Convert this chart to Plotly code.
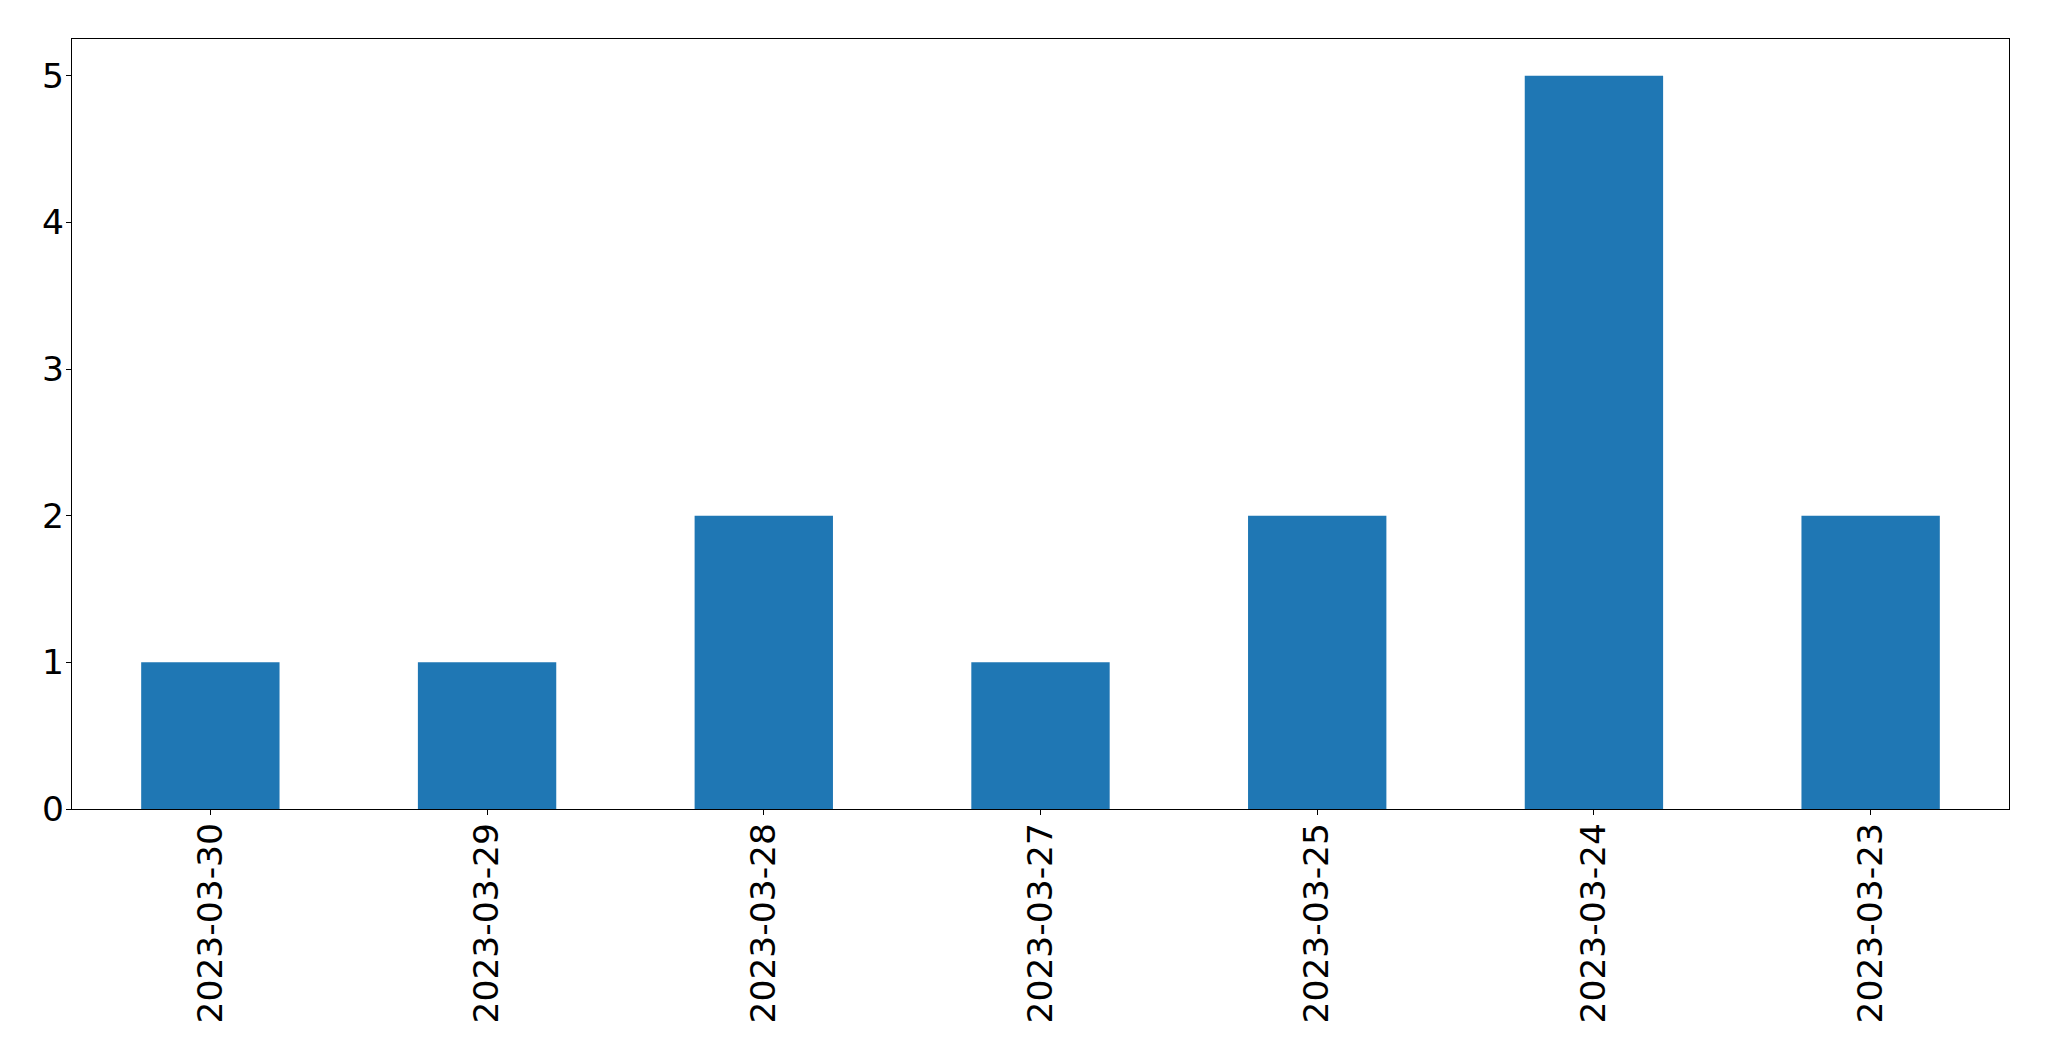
import plotly.graph_objects as go

dates = ["2023-03-30", "2023-03-29", "2023-03-28", "2023-03-27",
         "2023-03-25", "2023-03-24", "2023-03-23"]
counts = [1, 1, 2, 1, 2, 5, 2]

fig = go.Figure(go.Bar(x=dates, y=counts, width=0.5,
                       marker=dict(color="#1f77b4", line=dict(width=0))))

axis_common = dict(showline=True, linecolor="black", linewidth=1.4, mirror=True,
                   showgrid=False, zeroline=False, ticks="outside", ticklen=5,
                   tickwidth=1.4, tickcolor="black",
                   tickfont=dict(family="DejaVu Sans", size=34.5, color="black"))

fig.update_layout(
    width=2041, height=1053,
    margin=dict(l=64, r=40, t=31, b=252, autoexpand=False),
    paper_bgcolor="white", plot_bgcolor="white",
    showlegend=False,
    xaxis=dict(type="category", range=[-0.5, 6.5], tickangle=-90,
               ticklabelstandoff=-6, **axis_common),
    yaxis=dict(range=[0, 5.25], tickmode="array", tickvals=[0, 1, 2, 3, 4, 5],
               ticklabelstandoff=-5, **axis_common),
)

fig.write_html("out.html")
